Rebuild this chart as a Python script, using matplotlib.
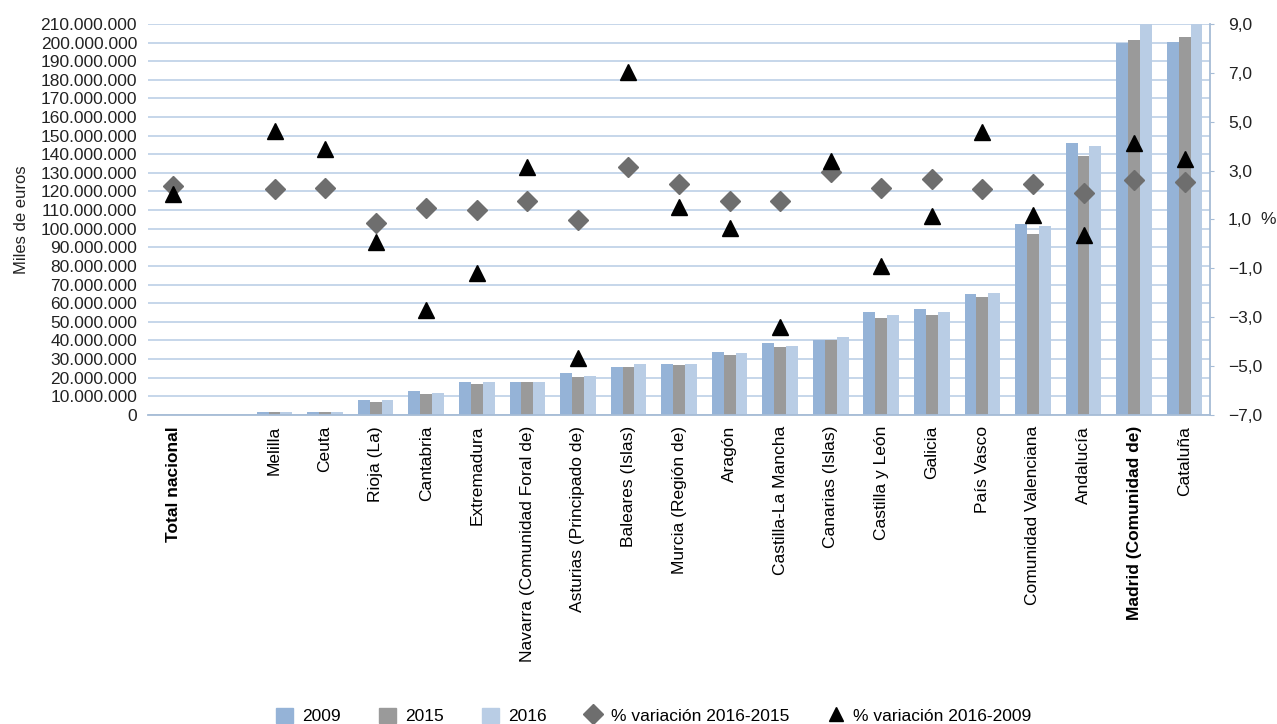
import numpy as np
import matplotlib
matplotlib.use('Agg')
import matplotlib.pyplot as plt
from matplotlib.ticker import FuncFormatter, MultipleLocator
from matplotlib.patches import Patch
from matplotlib.lines import Line2D

plt.rcParams['font.family'] = ['Liberation Sans', 'DejaVu Sans']

# regions (empty slot after the national total)
regions = ['Total nacional', '', 'Melilla', 'Ceuta', 'Rioja (La)', 'Cantabria', 'Extremadura',
           'Navarra (Comunidad Foral de)', 'Asturias (Principado de)', 'Baleares (Islas)',
           'Murcia (Región de)', 'Aragón', 'Castilla-La Mancha', 'Canarias (Islas)',
           'Castilla y León', 'Galicia', 'País Vasco', 'Comunidad Valenciana', 'Andalucía',
           'Madrid (Comunidad de)', 'Cataluña']
bold_labels = ['Total nacional', 'Madrid (Comunidad de)']

# miles de euros (total nacional bars not drawn in the original)
v2009 = [np.nan, np.nan, 1.6e6, 1.6e6, 8.0e6, 12.9e6, 17.7e6, 17.7e6, 22.6e6, 25.8e6,
         27.4e6, 33.8e6, 38.7e6, 40.4e6, 55.3e6, 56.9e6, 65.0e6, 102.6e6, 146.1e6,
         200.0e6, 200.3e6]
v2015 = [np.nan, np.nan, 1.5e6, 1.5e6, 7.0e6, 11.3e6, 16.6e6, 17.6e6, 20.1e6, 25.8e6,
         26.9e6, 32.2e6, 36.5e6, 40.4e6, 52.1e6, 53.7e6, 63.4e6, 97.2e6, 139.3e6,
         201.4e6, 203.0e6]
v2016 = [np.nan, np.nan, 1.6e6, 1.6e6, 8.0e6, 11.8e6, 17.7e6, 17.7e6, 20.9e6, 27.4e6,
         27.4e6, 33.3e6, 37.0e6, 41.8e6, 53.7e6, 55.3e6, 65.5e6, 101.5e6, 144.6e6,
         213.0e6, 212.0e6]

# % variacion
var_16_15 = [2.35, np.nan, 2.26, 2.28, 0.86, 1.47, 1.39, 1.76, 0.98, 3.15, 2.45, 1.76,
             1.76, 2.94, 2.29, 2.66, 2.25, 2.45, 2.07, 2.60, 2.53]
var_16_09 = [2.02, np.nan, 4.62, 3.90, 0.08, -2.70, -1.19, 3.15, -4.67, 7.04, 1.51, 0.65,
             -3.42, 3.39, -0.92, 1.14, 4.58, 1.18, 0.34, 4.12, 3.48]

c2009 = '#95b3d7'
c2015 = '#9a9a9a'
c2016 = '#b9cde5'
cgrid = '#c2d3e8'

fig = plt.figure(figsize=(12.77, 7.24), dpi=100)
ax = fig.add_axes([0.116, 0.427, 0.8315, 0.54])
x = np.arange(len(regions))
w = 0.235

ax.bar(x - w, v2009, w, color=c2009, zorder=2)
ax.bar(x, v2015, w, color=c2015, zorder=2)
ax.bar(x + w, v2016, w, color=c2016, zorder=2)

ax.set_xlim(-0.5, len(regions) - 0.5)
ax.set_ylim(0, 210e6)
ax.yaxis.set_major_locator(MultipleLocator(10e6))
ax.yaxis.set_major_formatter(FuncFormatter(lambda v, p: f'{int(round(v)):,}'.replace(',', '.')))
ax.grid(axis='y', color=cgrid, linewidth=1.3, zorder=0)
ax.set_axisbelow(True)
for s in ['top', 'left', 'right']:
    ax.spines[s].set_visible(False)
ax.spines['bottom'].set_color('#a6bcd6')
ax.spines['bottom'].set_linewidth(1.3)
ax.tick_params(axis='y', length=0, labelsize=12.5, pad=8, colors='#222222')
ax.tick_params(axis='x', length=0, pad=8)
ax.set_xticks(x)
ax.set_xticklabels(regions, rotation=90, fontsize=12.5, va='top')
for lab in ax.get_xticklabels():
    if lab.get_text() in bold_labels:
        lab.set_fontweight('bold')
ax.set_ylabel('Miles de euros', fontsize=12, labelpad=8, color='#222222')

ax2 = ax.twinx()
ax2.set_ylim(-7, 9)
ax2.set_yticks(np.arange(-7, 10, 2))
ax2.yaxis.set_major_formatter(FuncFormatter(lambda v, p: f'{v:.1f}'.replace('.', ',').replace('-', '\u2212')))
for s in ['top', 'left', 'bottom']:
    ax2.spines[s].set_visible(False)
ax2.spines['right'].set_color('#a6bcd6')
ax2.spines['right'].set_linewidth(1.3)
ax2.tick_params(axis='y', length=3, color='#a6bcd6', labelsize=12.5, pad=10, labelcolor='#222222')
ax2.set_ylabel('%', rotation=0, fontsize=12.5, labelpad=4, va='center', color='#222222')

ax2.plot(x, var_16_15, linestyle='none', marker='D', markersize=10.5, color='#6e6e6e', zorder=3)
ax2.plot(x, var_16_09, linestyle='none', marker='^', markersize=11, color='black', zorder=4)

handles = [Patch(color=c2009), Patch(color=c2015), Patch(color=c2016),
           Line2D([], [], linestyle='none', marker='D', markersize=10, color='#6e6e6e'),
           Line2D([], [], linestyle='none', marker='^', markersize=10, color='black')]
labels = ['2009', '2015', '2016', '% variación 2016-2015', '% variación 2016-2009']
fig.legend(handles, labels, loc='lower center', bbox_to_anchor=(0.512, -0.022), ncol=5,
           frameon=False, fontsize=12.5, handlelength=1.0, handleheight=1.0,
           handletextpad=0.5, columnspacing=2.2)

fig.savefig('out.png', dpi=100)
